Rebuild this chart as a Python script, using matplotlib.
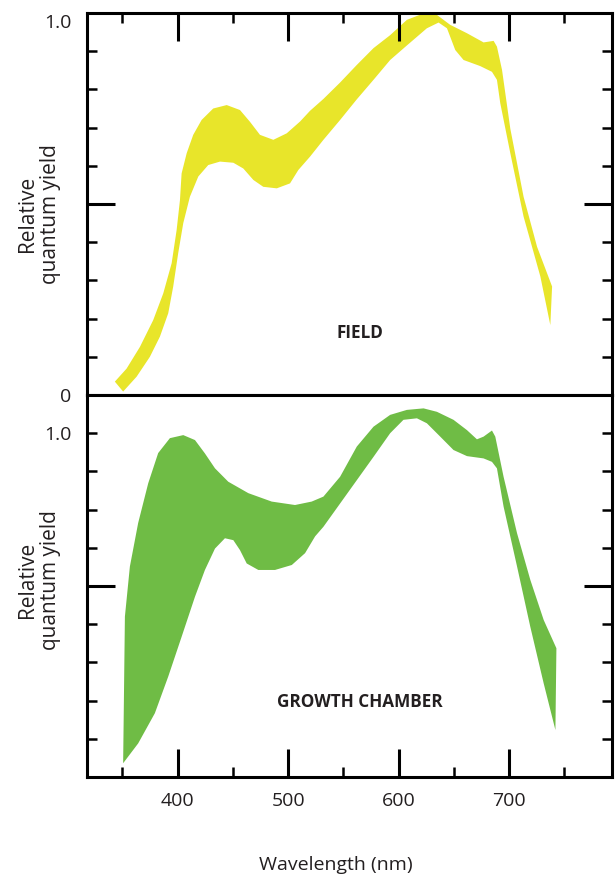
import matplotlib
matplotlib.use("Agg")
import matplotlib.pyplot as plt

plt.rcParams['font.family'] = ['Open Sans', 'DejaVu Sans']

# ---- data (wavelength nm, relative quantum yield) ----
field_upper_x = [343.2, 353.8, 365.9, 377.9, 387.0, 394.6, 399.1, 402.1, 403.6, 408.2, 414.1, 421.7,
                 432.2, 444.4, 456.4, 465.5, 474.5, 486.6, 498.7, 510.8, 519.8, 531.9, 547.0, 562.1,
                 577.2, 592.3, 607.4, 622.5, 634.6, 646.6, 661.8, 676.8, 685.9, 688.9, 693.5, 701.0,
                 713.0, 725.2, 738.8]
field_upper_y = [0.035, 0.069, 0.126, 0.196, 0.266, 0.345, 0.432, 0.510, 0.580, 0.633, 0.681, 0.720,
                 0.750, 0.759, 0.746, 0.715, 0.681, 0.668, 0.685, 0.716, 0.744, 0.775, 0.818, 0.864,
                 0.908, 0.942, 0.982, 0.999, 0.995, 0.969, 0.947, 0.923, 0.927, 0.912, 0.851, 0.697,
                 0.519, 0.388, 0.284]
field_lower_x = [350.7, 362.9, 374.9, 384.0, 391.5, 396.0, 400.5, 405.1, 411.1, 418.7, 427.7, 438.3,
                 450.4, 459.4, 468.5, 477.5, 489.7, 501.7, 509.2, 519.8, 531.9, 547.0, 562.1, 577.2,
                 592.3, 607.4, 625.5, 636.1, 643.7, 651.2, 658.7, 673.8, 684.4, 688.9, 691.9, 701.0,
                 713.0, 728.2, 737.2]
field_lower_y = [0.009, 0.048, 0.100, 0.153, 0.214, 0.284, 0.371, 0.450, 0.519, 0.572, 0.602, 0.611,
                 0.608, 0.593, 0.563, 0.545, 0.541, 0.554, 0.589, 0.624, 0.668, 0.720, 0.774, 0.825,
                 0.877, 0.915, 0.960, 0.975, 0.960, 0.903, 0.877, 0.861, 0.846, 0.825, 0.764, 0.633,
                 0.467, 0.310, 0.183]

chamber_upper_x = [350.7, 352.3, 356.8, 364.3, 373.4, 382.4, 393.0, 405.1, 415.7, 424.7, 433.8, 445.8,
                   464.0, 485.1, 506.2, 521.3, 531.9, 547.0, 562.1, 577.2, 592.3, 607.4, 622.5, 634.6,
                   649.6, 661.8, 670.8, 676.8, 684.4, 687.4, 694.9, 707.1, 719.1, 731.2, 742.7]
chamber_upper_y = [0.136, 0.520, 0.651, 0.765, 0.869, 0.948, 0.987, 0.995, 0.982, 0.947, 0.908, 0.873,
                   0.843, 0.821, 0.812, 0.821, 0.834, 0.886, 0.965, 1.017, 1.048, 1.061, 1.065, 1.056,
                   1.035, 1.008, 0.984, 0.991, 1.007, 0.991, 0.886, 0.738, 0.616, 0.511, 0.437]
chamber_lower_x = [350.7, 364.3, 379.4, 391.5, 403.6, 415.7, 424.7, 433.8, 442.8, 450.4, 456.4, 462.5,
                   473.0, 488.1, 503.3, 515.3, 524.4, 531.9, 547.0, 562.1, 577.2, 592.3, 604.3, 616.5,
                   625.5, 637.6, 649.6, 661.8, 676.8, 684.4, 688.9, 694.9, 707.1, 719.1, 731.2, 741.8]
chamber_lower_y = [0.136, 0.188, 0.267, 0.363, 0.467, 0.572, 0.642, 0.698, 0.725, 0.720, 0.694, 0.659,
                   0.642, 0.642, 0.655, 0.686, 0.730, 0.755, 0.816, 0.877, 0.938, 1.000, 1.035, 1.039,
                   1.026, 0.991, 0.956, 0.940, 0.934, 0.925, 0.908, 0.808, 0.651, 0.493, 0.345, 0.223]

x_major = [400, 500, 600, 700]
x_minor = [350, 450, 550, 650, 750]

YELLOW = '#E8E52A'
GREEN = '#6FBC45'
TXT = '#231F20'

W, H = 616, 877
fig = plt.figure(figsize=(W / 100, H / 100), dpi=100)
L, R = 87 / W, 612 / W
ax1 = fig.add_axes([L, 1 - 395 / H, R - L, 382 / H])
ax2 = fig.add_axes([L, 1 - 777 / H, R - L, 382 / H])

lw = 2.2
for ax in (ax1, ax2):
    ax.set_xlim(318, 793)
    for s in ax.spines.values():
        s.set_linewidth(lw)
        s.set_color('black')
    ax.set_xticks(x_major)
    ax.set_xticks(x_minor, minor=True)
    ax.tick_params(axis='both', which='major', direction='in', length=20, width=lw, color='black')
    ax.tick_params(axis='both', which='minor', direction='in', length=7, width=1.8, color='black')
    ax.tick_params(axis='y', which='both', left=True, right=True)

# top panel
ax1.fill(field_upper_x + field_lower_x[::-1], field_upper_y + field_lower_y[::-1],
         color=YELLOW, lw=0)
ax1.set_ylim(0, 1.0)
ax1.set_yticks([0.5], labels=[''])
yt1 = [0.0, 0.1, 0.2, 0.3, 0.4, 0.6, 0.7, 0.8, 0.9, 1.0]
ax1.set_yticks(yt1, minor=True, labels=['0'] + [''] * 9)
ax1.tick_params(axis='x', which='both', top=True, bottom=False, labelbottom=False)
ax1.tick_params(axis='y', which='both', labelsize=14, labelcolor=TXT, pad=11)
ax1.annotate('1.0', xy=(0, 1), xycoords='axes fraction', xytext=(-11, -7),
             textcoords='offset points', ha='right', va='center', fontsize=14, color=TXT)
ax1.text(565, 0.162, 'FIELD', ha='center', va='center', fontsize=12.3, fontweight='bold', color=TXT)

# bottom panel
ax2.fill(chamber_upper_x + chamber_lower_x[::-1], chamber_upper_y + chamber_lower_y[::-1],
         color=GREEN, lw=0)
ax2.set_ylim(0.1, 1.1)
ax2.set_yticks([0.6], labels=[''])
yt2 = [0.2, 0.3, 0.4, 0.5, 0.7, 0.8, 0.9, 1.0]
ax2.set_yticks(yt2, minor=True, labels=[''] * 7 + ['1.0'])
ax2.set_xticks(x_major, labels=[str(v) for v in x_major])
ax2.tick_params(axis='x', which='both', top=False, bottom=True)
ax2.tick_params(axis='x', which='major', labelsize=14, labelcolor=TXT, pad=11)
ax2.tick_params(axis='y', which='both', labelsize=14, labelcolor=TXT, pad=11)
ax2.text(565, 0.296, 'GROWTH CHAMBER', ha='center', va='center', fontsize=12.3,
         fontweight='bold', color=TXT)

for yc in (214, 580):
    fig.text(39 / W, 1 - yc / H, 'Relative\nquantum yield', rotation=90, ha='center', va='center',
             fontsize=15, color=TXT, multialignment='center', linespacing=1.1)
fig.text(336 / W, 1 - 865 / H, 'Wavelength (nm)', ha='center', va='center', fontsize=14, color=TXT)

fig.savefig('out.png', dpi=100)
